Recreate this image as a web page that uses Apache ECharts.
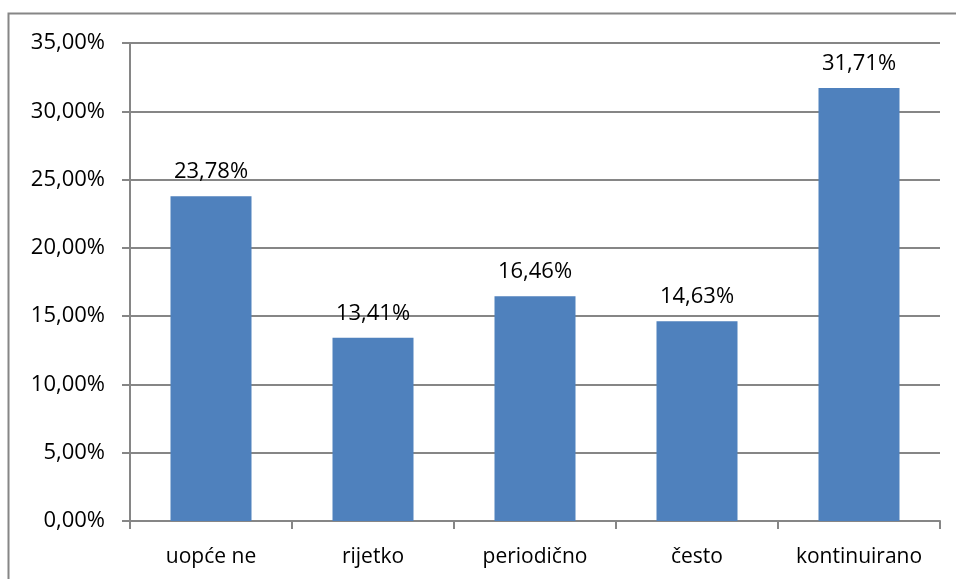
<!DOCTYPE html>
<html>
<head>
<meta charset="utf-8">
<script src="https://cdn.jsdelivr.net/npm/echarts@6/dist/echarts.min.js"></script>
<style>
  html, body { margin: 0; padding: 0; background: #fff; }
  #chart { width: 956px; height: 579px; }
</style>
</head>
<body>
<div id="chart"></div>
<script>
// categories and values
var categories = ["uopće ne", "rijetko", "periodično", "često", "kontinuirano"];
var values = [23.78, 13.41, 16.46, 14.63, 31.71];

var fmt = function (v) {
  return v.toFixed(2).replace(".", ",") + "%";
};

var chart = echarts.init(document.getElementById("chart"));
var option = {
  animation: false,
  textStyle: { fontFamily: "Open Sans", color: "#000" },
  graphic: [
    {
      type: "rect",
      shape: { x: 8.5, y: 13.5, width: 960, height: 600 },
      style: { fill: "none", stroke: "#868686", lineWidth: 2 }
    }
  ],
  grid: { left: 130, right: 16, top: 43, bottom: 58, containLabel: false },
  xAxis: {
    type: "category",
    data: categories,
    axisLine: { lineStyle: { color: "#868686", width: 2 } },
    axisTick: { show: true, interval: 0, length: 8, lineStyle: { color: "#868686", width: 2 } },
    axisLabel: { color: "#000", fontSize: 21, margin: 26, interval: 0, hideOverlap: false }
  },
  yAxis: {
    type: "value",
    min: 0,
    max: 35,
    interval: 5,
    axisLine: { show: true, lineStyle: { color: "#868686", width: 2 } },
    axisTick: { show: true, length: 8, lineStyle: { color: "#868686", width: 2 } },
    splitLine: { lineStyle: { color: "#868686", width: 2 } },
    axisLabel: { color: "#000", fontSize: 22, margin: 25, formatter: fmt }
  },
  series: [
    {
      type: "bar",
      data: values,
      barWidth: "50%",
      itemStyle: { color: "#4F81BD" },
      label: {
        show: true,
        position: "top",
        distance: 13,
        color: "#000",
        fontSize: 22,
        formatter: function (p) { return fmt(p.value); }
      }
    }
  ]
};
chart.setOption(option);
</script>
</body>
</html>
